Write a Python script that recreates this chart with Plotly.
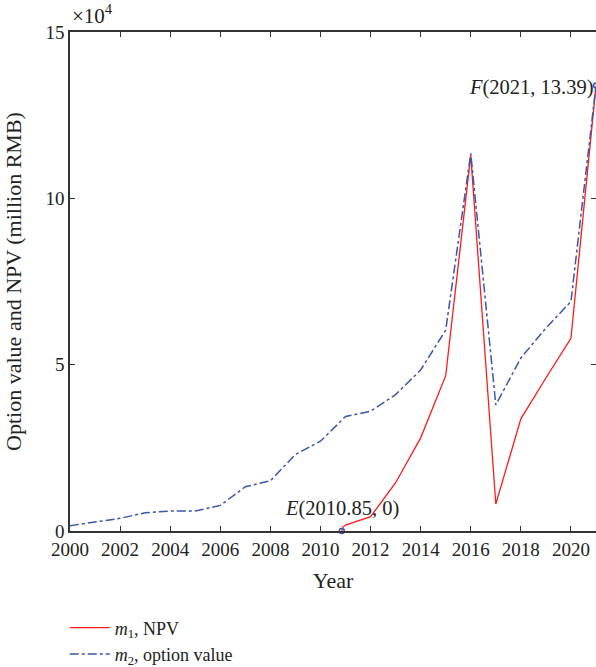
import plotly.graph_objects as go

years = list(range(2000, 2022))
option_value = [0.16, 0.27, 0.38, 0.55, 0.60, 0.60, 0.77, 1.33, 1.51, 2.30, 2.70,
                3.44, 3.60, 4.10, 4.84, 6.04, 11.35, 3.79, 5.20, 6.10, 6.90, 13.39]
npv_years = [2010.85, 2010.9, 2011, 2012, 2013, 2014, 2015, 2016, 2017, 2018, 2019, 2020, 2021]
npv = [0.0, 0.12, 0.18, 0.43, 1.45, 2.80, 4.67, 11.30, 0.81, 3.37, 4.60, 5.79, 13.39]
point_e = (2010.85, 0.0)
point_f = (2021, 13.39)

FONT = "Liberation Serif"
AXC = "#333333"
RED = "#FF1A1A"
BLUE = "#3A56B0"

fig = go.Figure()
fig.add_trace(go.Scatter(x=npv_years, y=npv, mode="lines",
                         line=dict(color=RED, width=1.3),
                         name="<i>m</i><sub>1</sub>, NPV"))
fig.add_trace(go.Scatter(x=years, y=option_value, mode="lines",
                         line=dict(color=BLUE, width=1.5, dash="dashdot"),
                         name="<i>m</i><sub>2</sub>, option value"))
fig.add_trace(go.Scatter(x=[point_e[0], point_f[0]], y=[point_e[1], point_f[1]],
                         mode="markers", showlegend=False, cliponaxis=False,
                         marker=dict(symbol="circle-open", size=5, color=BLUE,
                                     line=dict(width=1.5, color=BLUE))))

fig.add_annotation(x=point_e[0], y=point_e[1], xref="x", yref="y",
                   text="<i>E</i>(2010.85, 0)", showarrow=False,
                   xanchor="center", yanchor="bottom", yshift=9,
                   font=dict(family=FONT, size=20.5, color="#222"))
fig.add_annotation(x=point_f[0], y=point_f[1], xref="x", yref="y",
                   text="<i>F</i>(2021, 13.39)", showarrow=False,
                   xanchor="right", yanchor="bottom", xshift=0, yshift=-15,
                   font=dict(family=FONT, size=20.5, color="#222"))
fig.add_annotation(x=0, y=1, xref="paper", yref="paper",
                   text="×10<sup>4</sup>", showarrow=False,
                   xanchor="left", yanchor="bottom", yshift=2,
                   font=dict(family=FONT, size=21, color="#222"))

fig.update_layout(
    width=596, height=667,
    margin=dict(l=70, r=0, t=32, b=136, autoexpand=False),
    paper_bgcolor="white", plot_bgcolor="white",
    font=dict(family=FONT, size=18.5, color="#222"),
    legend=dict(x=-0.01, y=-0.157, xanchor="left", yanchor="top",
                itemwidth=40,
                font=dict(family=FONT, size=18, color="#222"),
                bgcolor="rgba(0,0,0,0)", tracegroupgap=0),
    xaxis=dict(range=[2000, 2021], tickmode="array",
               tickvals=list(range(2000, 2022, 2)),
               ticks="inside", ticklen=5, tickcolor=AXC,
               showline=True, linecolor=AXC, linewidth=1.5, mirror="ticks",
               showgrid=False, zeroline=False,
               title=dict(text="Year", standoff=14),
               tickfont=dict(family=FONT, size=19)),
    yaxis=dict(range=[0, 15], tickmode="array", tickvals=[0, 5, 10, 15],
               ticks="inside", ticklen=5, tickcolor=AXC,
               showline=True, linecolor=AXC, linewidth=1.5, mirror="ticks",
               showgrid=False, zeroline=False,
               title=dict(text="Option value and NPV (million RMB)", standoff=18),
               tickfont=dict(family=FONT, size=19)),
)

fig.write_html("out.html", config={"displayModeBar": False},
               post_script="document.body.style.margin='0px';document.body.style.overflow='hidden';")
